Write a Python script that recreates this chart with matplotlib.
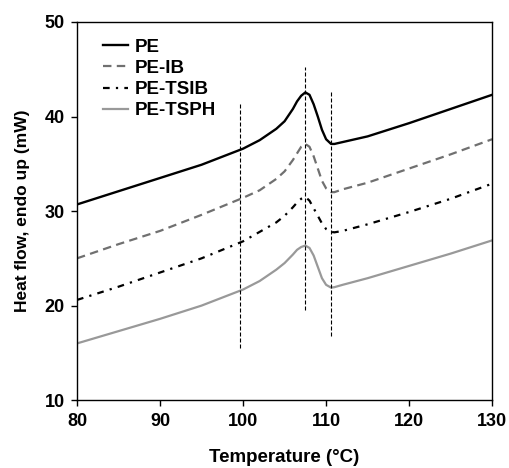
import matplotlib
matplotlib.use("Agg")
import matplotlib.pyplot as plt

# Temperature grid (deg C) and heat flow for each sample (mW)
temp = [80, 85, 90, 95, 100, 102, 103, 104, 105, 106, 106.5, 107, 107.5, 108,
        108.5, 109, 109.5, 110, 110.6, 111, 112, 115, 120, 125, 130]
pe = [30.7, 32.1, 33.5, 34.9, 36.6, 37.5, 38.1, 38.7, 39.5, 40.8, 41.6, 42.2,
      42.55, 42.3, 41.3, 40.0, 38.6, 37.6, 37.1, 37.1, 37.3, 37.9, 39.3, 40.8, 42.3]
pe_ib = [25.0, 26.5, 27.9, 29.6, 31.4, 32.2, 32.8, 33.4, 34.2, 35.4, 36.1, 36.8,
         37.1, 36.8, 35.8, 34.5, 33.2, 32.4, 32.0, 32.0, 32.3, 33.0, 34.5, 36.0, 37.6]
pe_tsib = [20.6, 22.0, 23.5, 25.0, 26.8, 27.8, 28.3, 28.8, 29.5, 30.4, 30.9, 31.3,
           31.5, 31.1, 30.3, 29.5, 28.7, 28.1, 27.8, 27.75, 27.9, 28.6, 29.9, 31.3, 32.9]
pe_tsph = [16.0, 17.3, 18.6, 20.0, 21.7, 22.6, 23.2, 23.8, 24.5, 25.4, 25.9, 26.2,
           26.35, 26.1, 25.3, 24.1, 22.9, 22.2, 21.9, 21.95, 22.2, 22.9, 24.2, 25.5, 26.9]

# Reference lines: x position, bottom, top
vline_x = [99.6, 107.5, 110.6]
vline_lo = [15.5, 19.5, 16.8]
vline_hi = [41.3, 45.2, 42.6]

plt.rcParams['font.family'] = ['Liberation Sans', 'DejaVu Sans']
plt.rcParams['font.weight'] = 'bold'

fig = plt.figure(figsize=(5.1, 4.68), dpi=100)
ax = fig.add_axes([0.151, 0.145, 0.814, 0.808])

ax.plot(temp, pe, color='black', lw=1.7, label='PE')
ax.plot(temp, pe_ib, color='#707070', lw=1.6, ls=(0, (3.8, 2.4)), label='PE-IB')
ax.plot(temp, pe_tsib, color='black', lw=1.6, ls=(0, (3.0, 2.8, 1.0, 2.8)), label='PE-TSIB')
ax.plot(temp, pe_tsph, color='#999999', lw=1.6, label='PE-TSPH')

for x, lo, hi in zip(vline_x, vline_lo, vline_hi):
    ax.plot([x, x], [lo, hi], color='black', lw=0.8, ls=(0, (3.6, 1.8)))

ax.set_xlim(80, 130)
ax.set_ylim(10, 50)
ax.set_xticks(range(80, 131, 10))
ax.set_yticks(range(10, 51, 10))
ax.tick_params(direction='out', length=4, width=1, labelsize=13, pad=5)
for s in ax.spines.values():
    s.set_linewidth(1.0)

ax.set_xlabel('Temperature (°C)', fontsize=13.5, fontweight='bold', labelpad=14)
ax.set_ylabel('Heat flow, endo up (mW)', fontsize=12.5, fontweight='bold', labelpad=10)

leg = ax.legend(loc='upper left', bbox_to_anchor=(0.045, 0.976), frameon=False,
                fontsize=13.5, handlelength=1.3, labelspacing=0.22,
                borderaxespad=0, handletextpad=0.4, borderpad=0.4)
for t in leg.get_texts():
    t.set_fontweight('bold')

fig.savefig('out.png', dpi=100)
